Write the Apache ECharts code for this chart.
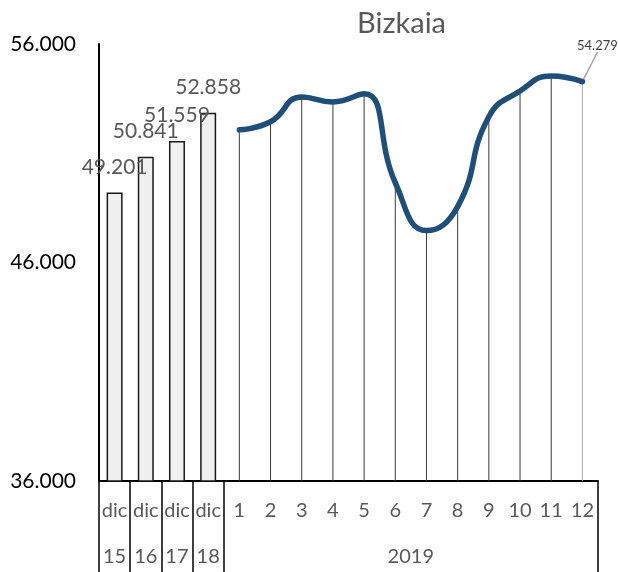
<!DOCTYPE html>
<html>
<head>
<meta charset="utf-8">
<script src="https://cdn.jsdelivr.net/npm/echarts@6/dist/echarts.min.js"></script>
<style>
	html, body { margin: 0; padding: 0; background: #fff; }
	#chart { width: 618px; height: 572px; }
</style>
</head>
<body>
<div id="chart"></div>
<script>
	// december values of previous years (bars)
	var dicLabels = ['dic', 'dic', 'dic', 'dic'];
	var dicYears = ['15', '16', '17', '18'];
	var dicValues = [49201, 50841, 51559, 52858];

	// monthly values 2019 (line)
	var months = ['1', '2', '3', '4', '5', '6', '7', '8', '9', '10', '11', '12'];
	var monthYear = '2019';
	var monthValues = [52070, 52440, 53580, 53350, 53720, 49650, 47460, 48560, 52670, 53850, 54540, 54279];

	var yMin = 36000, yMax = 56000, yStep = 10000;

	function fmt(v) {
		return (v / 1000).toFixed(3);
	}

	var gray = '#595959';
	var font = 'Lato';

	// first row and second row of the category axis
	var cats = dicLabels.concat(months);
	var cats2 = [];
	for (let i = 0; i < cats.length; i++) {
		cats2.push(i < dicYears.length ? dicYears[i] : '');
	}
	// year label sits between months 6 and 7
	var yearIdx = dicYears.length + 5;
	cats2[yearIdx] = {
		value: monthYear,
		textStyle: { padding: [0, 0, 0, 31] }
	};

	var barData = [], lineData = [], dropData = [];
	for (let i = 0; i < cats.length; i++) {
		if (i < dicValues.length) {
			barData.push(dicValues[i]);
			lineData.push('-');
			dropData.push('-');
		} else {
			let v = monthValues[i - dicValues.length];
			barData.push('-');
			dropData.push(v);
			lineData.push(v);
		}
	}
	var last = cats.length - 1;
	lineData[last] = {
		value: monthValues[monthValues.length - 1],
		symbol: 'circle',
		symbolSize: 5,
		label: {
			show: true,
			position: 'top',
			formatter: function(p) { return fmt(p.value); },
			fontFamily: font,
			fontSize: 13,
			color: '#404040'
		},
		labelLine: {
			show: true,
			lineStyle: { color: '#a6a6a6', width: 1.5 }
		}
	};
	dropData[last] = {
		value: monthValues[monthValues.length - 1],
		itemStyle: { color: '#a6a6a6' }
	};

	var option = {
		animation: false,
		backgroundColor: '#fff',
		title: {
			text: 'Bizkaia',
			left: 352,
			top: 4,
			textStyle: {
				fontFamily: font,
				fontSize: 29,
				fontWeight: 'normal',
				color: gray
			}
		},
		grid: {
			left: 99,
			right: 20,
			top: 44,
			bottom: 91,
			containLabel: false,
			outerBoundsMode: 'none'
		},
		xAxis: [{
			type: 'category',
			position: 'bottom',
			data: cats,
			boundaryGap: true,
			axisLine: { show: true, lineStyle: { color: '#000', width: 2 } },
			axisTick: {
				show: true,
				length: 91,
				interval: function(idx) { return idx <= dicValues.length; },
				lineStyle: { color: '#000', width: 1.5 }
			},
			axisLabel: {
				interval: 0,
				margin: 20,
				fontFamily: font,
				fontSize: 20,
				color: gray
			},
			splitLine: { show: false }
		}, {
			type: 'category',
			position: 'bottom',
			data: cats2,
			boundaryGap: true,
			axisLine: { show: false },
			axisTick: { show: false },
			axisLabel: {
				interval: 0,
				margin: 66,
				fontFamily: font,
				fontSize: 20,
				color: gray
			},
			splitLine: { show: false }
		}],
		yAxis: {
			type: 'value',
			min: yMin,
			max: yMax,
			interval: yStep,
			axisLine: { show: true, lineStyle: { color: '#000', width: 2 } },
			axisTick: { show: false },
			splitLine: { show: false },
			axisLabel: {
				margin: 23,
				fontFamily: font,
				fontSize: 21,
				color: '#000',
				formatter: fmt
			}
		},
		series: [{
			name: 'dic',
			type: 'bar',
			xAxisIndex: 0,
			barWidth: 16,
			data: barData,
			itemStyle: {
				color: '#f0f0f0',
				borderColor: '#1a1a1a',
				borderWidth: 1.5
			},
			label: {
				show: true,
				position: 'top',
				distance: 15,
				formatter: function(p) { return fmt(p.value); },
				fontFamily: font,
				fontSize: 21,
				color: gray
			},
			z: 2
		}, {
			name: 'drop',
			type: 'bar',
			xAxisIndex: 1,
			barWidth: 1,
			data: dropData,
			itemStyle: { color: '#3a3a3a' },
			z: 2
		}, {
			name: '2019',
			type: 'line',
			xAxisIndex: 0,
			data: lineData,
			smooth: true,
			symbol: 'none',
			connectNulls: false,
			lineStyle: { color: '#1f4e79', width: 5.5, cap: 'round' },
			itemStyle: { color: '#1f4e79' },
			labelLayout: function(p) {
				if (p.dataIndex === last) {
					return { dx: 15, dy: -22 };
				}
			},
			z: 3
		}]
	};

	var myChart = echarts.init(document.getElementById('chart'));
	myChart.setOption(option);
</script>
</body>
</html>
